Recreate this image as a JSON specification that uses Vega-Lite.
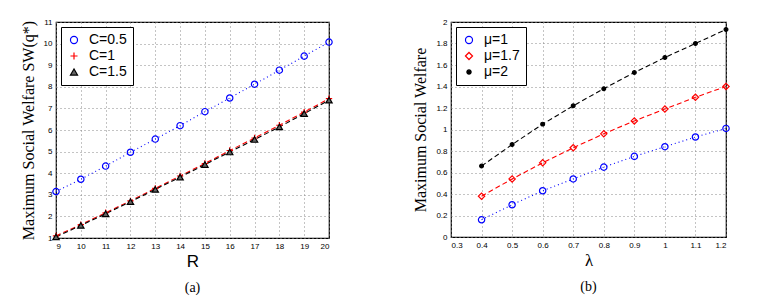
{
  "$schema": "https://vega.github.io/schema/vega-lite/v6.json",
  "background": "white",
  "padding": {"left": 19, "top": 17, "right": 5, "bottom": 2},
  "spacing": 76,
  "config": {
    "view": {"stroke": "black", "strokeWidth": 1.2},
    "axis": {
      "grid": true, "gridDash": [1, 3], "gridColor": "#888", "gridWidth": 1,
      "ticks": false, "domain": false,
      "labelFont": "Liberation Sans", "labelFontSize": 8, "labelColor": "black", "labelPadding": 4,
      "titleColor": "black", "titleFontWeight": "normal"
    },
    "legend": {
      "orient": "top-left", "offset": 5, "fillColor": "white", "strokeColor": "black",
      "padding": 6, "labelFont": "Liberation Sans", "labelFontSize": 14, "labelColor": "black",
      "symbolSize": 50, "symbolStrokeWidth": 1.2, "rowPadding": 2, "labelOffset": 8
    }
  },
  "resolve": {"scale": {"stroke": "independent", "fill": "independent", "shape": "independent"}, "legend": {"stroke": "independent", "fill": "independent", "shape": "independent"}},
  "hconcat": [
    {
      "width": 273, "height": 216,
      "title": {"text": "(a)", "orient": "bottom", "font": "Liberation Serif", "fontSize": 14, "fontWeight": "normal", "offset": 12},
      "data": {"values": [
        {"R": 9, "C": "C=0.5", "SW": 3.15}, {"R": 10, "C": "C=0.5", "SW": 3.72}, {"R": 11, "C": "C=0.5", "SW": 4.33}, {"R": 12, "C": "C=0.5", "SW": 4.97},
        {"R": 13, "C": "C=0.5", "SW": 5.58}, {"R": 14, "C": "C=0.5", "SW": 6.2}, {"R": 15, "C": "C=0.5", "SW": 6.85}, {"R": 16, "C": "C=0.5", "SW": 7.48},
        {"R": 17, "C": "C=0.5", "SW": 8.12}, {"R": 18, "C": "C=0.5", "SW": 8.77}, {"R": 19, "C": "C=0.5", "SW": 9.42}, {"R": 20, "C": "C=0.5", "SW": 10.07},
        {"R": 9, "C": "C=1", "SW": 1.1}, {"R": 10, "C": "C=1", "SW": 1.62}, {"R": 11, "C": "C=1", "SW": 2.17}, {"R": 12, "C": "C=1", "SW": 2.72},
        {"R": 13, "C": "C=1", "SW": 3.3}, {"R": 14, "C": "C=1", "SW": 3.87}, {"R": 15, "C": "C=1", "SW": 4.45}, {"R": 16, "C": "C=1", "SW": 5.05},
        {"R": 17, "C": "C=1", "SW": 5.63}, {"R": 18, "C": "C=1", "SW": 6.22}, {"R": 19, "C": "C=1", "SW": 6.83}, {"R": 20, "C": "C=1", "SW": 7.45},
        {"R": 9, "C": "C=1.5", "SW": 1.05}, {"R": 10, "C": "C=1.5", "SW": 1.58}, {"R": 11, "C": "C=1.5", "SW": 2.12}, {"R": 12, "C": "C=1.5", "SW": 2.68},
        {"R": 13, "C": "C=1.5", "SW": 3.25}, {"R": 14, "C": "C=1.5", "SW": 3.82}, {"R": 15, "C": "C=1.5", "SW": 4.4}, {"R": 16, "C": "C=1.5", "SW": 4.98},
        {"R": 17, "C": "C=1.5", "SW": 5.56}, {"R": 18, "C": "C=1.5", "SW": 6.14}, {"R": 19, "C": "C=1.5", "SW": 6.76}, {"R": 20, "C": "C=1.5", "SW": 7.38}
      ]},
      "encoding": {
        "x": {"field": "R", "type": "quantitative", "scale": {"domain": [9, 20], "nice": false},
              "axis": {"values": [9, 10, 11, 12, 13, 14, 15, 16, 17, 18, 19, 20], "title": "R", "titleFont": "Liberation Sans", "titleFontSize": 17, "titlePadding": 3}},
        "y": {"field": "SW", "type": "quantitative", "scale": {"domain": [1, 11], "nice": false},
              "axis": {"values": [1, 2, 3, 4, 5, 6, 7, 8, 9, 10, 11], "title": "Maximum Social Welfare SW(q*)", "titleFont": "Liberation Serif", "titleFontSize": 16, "titlePadding": 7}},
        "stroke": {"field": "C", "type": "nominal", "title": null, "scale": {"domain": ["C=0.5", "C=1", "C=1.5"], "range": ["#0000ff", "#ff0000", "#000000"]}}
      },
      "layer": [
        {"transform": [{"filter": "datum.C === 'C=0.5'"}], "mark": {"type": "line", "strokeWidth": 1.1, "strokeDash": [1, 3]}},
        {"transform": [{"filter": "datum.C !== 'C=0.5'"}], "mark": {"type": "line", "strokeWidth": 1.1, "strokeDash": [5, 3]}},
        {"mark": {"type": "point", "size": 40, "strokeWidth": 1.2, "opacity": 1},
         "encoding": {
           "fill": {"field": "C", "type": "nominal", "title": null, "scale": {"domain": ["C=0.5", "C=1", "C=1.5"], "range": ["transparent", "transparent", "#666666"]}},
           "shape": {"field": "C", "type": "nominal", "title": null, "scale": {"domain": ["C=0.5", "C=1", "C=1.5"], "range": ["circle", "M-1,0L1,0M0,-1L0,1", "triangle-up"]}}
         }}
      ]
    },
    {
      "width": 275, "height": 215,
      "title": {"text": "(b)", "orient": "bottom", "font": "Liberation Serif", "fontSize": 14, "fontWeight": "normal", "offset": 12},
      "data": {"values": [
        {"lambda": 0.4, "mu": "μ=1", "SW": 0.16}, {"lambda": 0.5, "mu": "μ=1", "SW": 0.3}, {"lambda": 0.6, "mu": "μ=1", "SW": 0.43}, {"lambda": 0.7, "mu": "μ=1", "SW": 0.54},
        {"lambda": 0.8, "mu": "μ=1", "SW": 0.65}, {"lambda": 0.9, "mu": "μ=1", "SW": 0.75}, {"lambda": 1.0, "mu": "μ=1", "SW": 0.84}, {"lambda": 1.1, "mu": "μ=1", "SW": 0.93},
        {"lambda": 1.2, "mu": "μ=1", "SW": 1.01},
        {"lambda": 0.4, "mu": "μ=1.7", "SW": 0.38}, {"lambda": 0.5, "mu": "μ=1.7", "SW": 0.54}, {"lambda": 0.6, "mu": "μ=1.7", "SW": 0.69}, {"lambda": 0.7, "mu": "μ=1.7", "SW": 0.83},
        {"lambda": 0.8, "mu": "μ=1.7", "SW": 0.96}, {"lambda": 0.9, "mu": "μ=1.7", "SW": 1.08}, {"lambda": 1.0, "mu": "μ=1.7", "SW": 1.19}, {"lambda": 1.1, "mu": "μ=1.7", "SW": 1.3},
        {"lambda": 1.2, "mu": "μ=1.7", "SW": 1.4},
        {"lambda": 0.4, "mu": "μ=2", "SW": 0.66}, {"lambda": 0.5, "mu": "μ=2", "SW": 0.86}, {"lambda": 0.6, "mu": "μ=2", "SW": 1.05}, {"lambda": 0.7, "mu": "μ=2", "SW": 1.22},
        {"lambda": 0.8, "mu": "μ=2", "SW": 1.38}, {"lambda": 0.9, "mu": "μ=2", "SW": 1.53}, {"lambda": 1.0, "mu": "μ=2", "SW": 1.67}, {"lambda": 1.1, "mu": "μ=2", "SW": 1.8},
        {"lambda": 1.2, "mu": "μ=2", "SW": 1.93}
      ]},
      "encoding": {
        "x": {"field": "lambda", "type": "quantitative", "scale": {"domain": [0.3, 1.2], "nice": false},
              "axis": {"values": [0.3, 0.4, 0.5, 0.6, 0.7, 0.8, 0.9, 1, 1.1, 1.2], "format": "~g", "title": "λ", "titleFont": "Liberation Serif", "titleFontSize": 17, "titlePadding": 3}},
        "y": {"field": "SW", "type": "quantitative", "scale": {"domain": [0, 2], "nice": false},
              "axis": {"values": [0, 0.2, 0.4, 0.6, 0.8, 1, 1.2, 1.4, 1.6, 1.8, 2], "format": "~g", "title": "Maximum Social Welfare", "titleFont": "Liberation Serif", "titleFontSize": 16, "titlePadding": 7}},
        "stroke": {"field": "mu", "type": "nominal", "title": null, "scale": {"domain": ["μ=1", "μ=1.7", "μ=2"], "range": ["#0000ff", "#ff0000", "#000000"]}}
      },
      "layer": [
        {"transform": [{"filter": "datum.mu === 'μ=1'"}], "mark": {"type": "line", "strokeWidth": 1.1, "strokeDash": [1, 3]}},
        {"transform": [{"filter": "datum.mu !== 'μ=1'"}], "mark": {"type": "line", "strokeWidth": 1.1, "strokeDash": [5, 3]}},
        {"mark": {"type": "point", "size": 40, "strokeWidth": 1.2, "opacity": 1},
         "encoding": {
           "fill": {"field": "mu", "type": "nominal", "title": null, "scale": {"domain": ["μ=1", "μ=1.7", "μ=2"], "range": ["transparent", "transparent", "#000000"]}},
           "shape": {"field": "mu", "type": "nominal", "title": null, "scale": {"domain": ["μ=1", "μ=1.7", "μ=2"], "range": ["circle", "diamond", "M0.6,0A0.6,0.6 0 1,1 -0.6,0A0.6,0.6 0 1,1 0.6,0Z"]}}
         }}
      ]
    }
  ]
}
